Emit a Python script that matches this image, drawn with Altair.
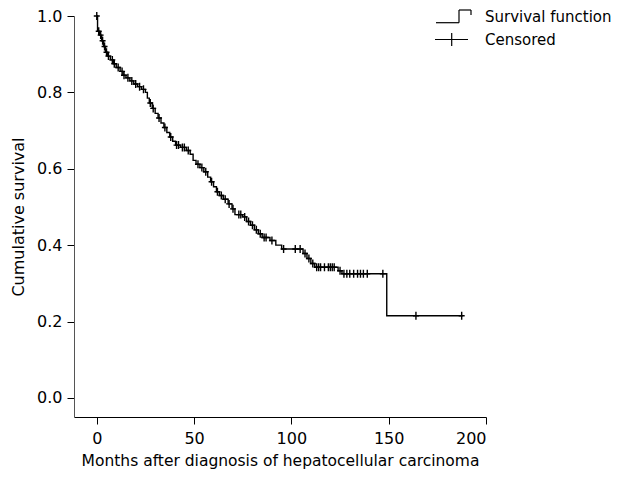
import altair as alt
import pandas as pd
import numpy as np

# Kaplan-Meier step points (time in months, survival after the drop)
event_times = [0, 0.4, 1.5, 2.5, 3.5, 4.5, 5.5, 7, 8.5, 10, 12, 13.5, 15, 17, 19, 21, 23, 25,
               26, 27, 28.5, 30, 31.5, 33, 34.5, 36, 37.5, 39, 40.5, 43, 46, 48, 49.5, 51, 53,
               55, 57, 58.5, 60, 61.5, 63, 65, 67.5, 69.5, 71, 75, 77, 79, 81, 83, 85, 89, 92,
               95, 106, 108, 110, 112, 124, 126, 149, 188]
survival = [1.0, 0.96, 0.95, 0.935, 0.92, 0.905, 0.895, 0.885, 0.875, 0.865, 0.855, 0.845,
            0.838, 0.83, 0.822, 0.815, 0.808, 0.80, 0.785, 0.772, 0.758, 0.745, 0.733, 0.72,
            0.708, 0.695, 0.683, 0.672, 0.662, 0.656, 0.648, 0.638, 0.622, 0.612, 0.603, 0.592,
            0.578, 0.566, 0.553, 0.54, 0.53, 0.52, 0.508, 0.495, 0.48, 0.474, 0.462, 0.452,
            0.44, 0.43, 0.42, 0.412, 0.40, 0.39, 0.378, 0.365, 0.352, 0.342, 0.333, 0.325,
            0.215, 0.215]

# Censored observation times
censor_times = [0, 1, 2, 3, 4, 5, 6, 8, 9, 11, 13, 14, 16, 18, 20, 22, 24, 27.5, 29, 32, 35,
                38, 41, 42, 44, 45, 47, 52, 54, 56, 59, 62, 64, 66, 68, 70, 73, 74, 76, 78, 80,
                82, 84, 86, 87, 90, 96, 102, 104.5, 107, 109, 111, 113, 114, 115, 117, 119, 120,
                121, 122, 125, 127, 128.5, 130, 132, 134, 135.5, 137, 139, 147, 164, 187.5]

x_ticks = [0, 50, 100, 150, 200]
y_ticks = [0.0, 0.2, 0.4, 0.6, 0.8, 1.0]

steps = pd.DataFrame({"t": event_times, "S": survival})
idx = np.searchsorted(np.array(event_times), np.array(censor_times), side="right") - 1
cens = pd.DataFrame({"t": censor_times, "S": [survival[i] for i in idx]})

FONT = "DejaVu Sans"
xs = alt.Scale(domain=[-11.7, 200], nice=False, zero=False)
ys = alt.Scale(domain=[-0.05, 1.0], nice=False, zero=False)

x_axis = alt.Axis(values=x_ticks, title="Months after diagnosis of hepatocellular carcinoma",
                  grid=False, tickSize=7, labelPadding=6, titlePadding=7,
                  domainColor="#000", tickColor="#000", labelColor="#000", titleColor="#000",
                  labelFontSize=16, titleFontSize=15.5, labelFont=FONT, titleFont=FONT,
                  titleFontWeight="normal")
y_axis = alt.Axis(values=y_ticks, format=".1f", title="Cumulative survival", grid=False,
                  tickSize=7, labelPadding=5, titlePadding=10,
                  domainColor="#555", tickColor="#000", labelColor="#000", titleColor="#000",
                  labelFontSize=16, titleFontSize=16, labelFont=FONT, titleFont=FONT,
                  titleFontWeight="normal")

line = alt.Chart(steps).mark_line(interpolate="step-after", color="black", strokeWidth=1.4).encode(
    x=alt.X("t:Q", scale=xs, axis=x_axis),
    y=alt.Y("S:Q", scale=ys, axis=y_axis),
)

cross_path = "M-0.75,0L0.75,0M0,-1L0,1"
marks = alt.Chart(cens).mark_point(shape=cross_path, size=64, filled=False, color="black",
                                   strokeWidth=1.4, opacity=1).encode(
    x=alt.X("t:Q", scale=xs), y=alt.Y("S:Q", scale=ys))

def seg(x1, y1, x2, y2):
    return alt.Chart(pd.DataFrame({"a": [0]})).mark_rule(color="black", strokeWidth=1.2).encode(
        x=alt.value(x1), y=alt.value(y1), x2=alt.value(x2), y2=alt.value(y2))

def txt(s, x, y):
    return alt.Chart(pd.DataFrame({"a": [0]})).mark_text(
        text=s, align="left", baseline="middle", font=FONT, fontSize=15, color="black").encode(
        x=alt.value(x), y=alt.value(y))

legend = [
    seg(362, 6.7, 385, 6.7), seg(385, 6.7, 385, -6), seg(385, -6, 397, -6), seg(397, -6, 397, -1),
    seg(361, 23.5, 394, 23.5), seg(377.7, 17, 377.7, 30),
    txt("Survival function", 411, 1), txt("Censored", 411, 24),
]

chart = alt.layer(line, marks, *legend).properties(
    width=412, height=401,
    background="white",
    autosize=alt.AutoSizeParams(type="none"),
    padding={"left": 66, "top": 8, "right": 129, "bottom": 52},
).configure_view(stroke=None)

chart.save("out.html", embed_options={"renderer": "svg", "actions": False})
